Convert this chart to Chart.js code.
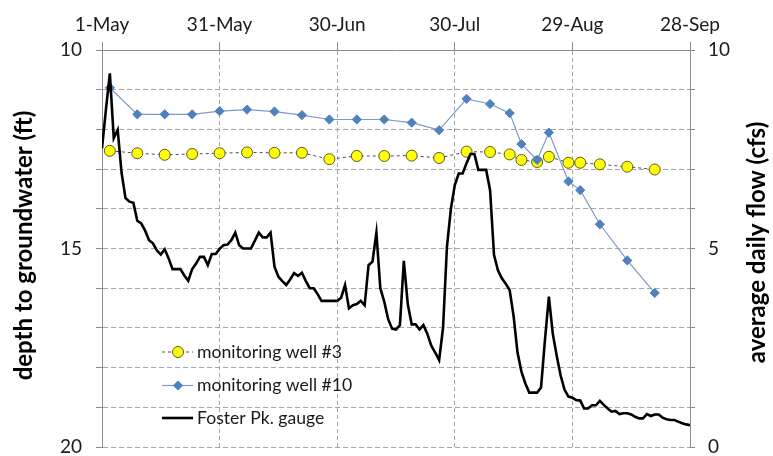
<!DOCTYPE html>
<html>
<head>
<meta charset="utf-8">
<script src="https://cdn.jsdelivr.net/npm/chart.js@4/dist/chart.umd.min.js"></script>
<style>
  html, body { margin: 0; padding: 0; background: #ffffff; }
  #wrap { width: 773px; height: 456px; }
</style>
</head>
<body>
<div id="wrap"><canvas id="c" width="773" height="456"></canvas></div>
<script>
// Date axis: day number counted from 1-May, ticks every 30 days
const dateTickLabels = ['1-May', '31-May', '30-Jun', '30-Jul', '29-Aug', '28-Sep'];

// Monitoring well survey days (days after 1-May)
const wellDays = [2, 9, 16, 23, 30, 37, 44, 51, 58, 65, 72, 79, 86, 93, 99, 104, 107, 111, 114, 119, 122, 127, 134, 141];

// Depth to groundwater (ft)
const well3Depth = [12.54, 12.60, 12.64, 12.62, 12.60, 12.58, 12.59, 12.59, 12.75, 12.67, 12.67, 12.66,
                    12.72, 12.56, 12.57, 12.63, 12.77, 12.82, 12.69, 12.84, 12.84, 12.88, 12.94, 13.01];
const well10Depth = [10.95, 11.62, 11.62, 11.62, 11.54, 11.50, 11.55, 11.64, 11.75, 11.75, 11.75, 11.83,
                     12.02, 11.23, 11.36, 11.59, 12.37, 12.77, 12.08, 13.31, 13.53, 14.39, 15.30, 16.12];

// Foster Pk. gauge, average daily flow (cfs), one value per day from 1-May to 28-Sep
const flowCfs = [
  7.52, 8.50, 9.41, 7.78, 7.99, 6.90, 6.27, 6.18, 6.15, 5.70,
  5.63, 5.45, 5.21, 5.13, 4.95, 4.85, 4.98, 4.75, 4.48, 4.48,
  4.48, 4.32, 4.19, 4.48, 4.62, 4.79, 4.79, 4.58, 4.86, 4.86,
  4.99, 5.08, 5.10, 5.21, 5.40, 5.08, 5.00, 5.00, 5.00, 5.20,
  5.40, 5.28, 5.28, 5.40, 4.54, 4.29, 4.18, 4.08, 4.22, 4.38,
  4.31, 4.39, 4.18, 4.00, 4.00, 3.85, 3.68, 3.68, 3.68, 3.68,
  3.68, 3.76, 4.08, 3.49, 3.57, 3.60, 3.68, 3.57, 4.58, 4.67,
  5.40, 4.00, 3.66, 3.22, 2.98, 2.96, 3.07, 4.69, 3.60, 3.09,
  3.09, 2.96, 3.07, 2.85, 2.55, 2.38, 2.19, 3.00, 5.05, 6.00,
  6.60, 6.89, 6.89, 7.15, 7.38, 7.38, 6.98, 6.98, 6.98, 6.47,
  4.84, 4.45, 4.25, 4.11, 3.95, 3.30, 2.38, 1.90, 1.60, 1.37,
  1.37, 1.37, 1.50, 2.70, 3.79, 2.85, 2.30, 1.80, 1.44, 1.27,
  1.24, 1.18, 1.17, 0.97, 0.97, 1.05, 1.05, 1.16, 1.06, 0.97,
  0.89, 0.91, 0.83, 0.85, 0.85, 0.82, 0.76, 0.72, 0.72, 0.83,
  0.78, 0.82, 0.82, 0.74, 0.70, 0.68, 0.68, 0.64, 0.60, 0.57,
  0.55
];

const seriesNames = ['monitoring well #3', 'monitoring well #10', 'Foster Pk. gauge'];
const axisTitles = { depth: 'depth to groundwater (ft)', flow: 'average daily flow (cfs)' };

const FONT = 'Lato, "Open Sans", sans-serif';
const GRID = '#a6a6a6';
const AXIS = '#8c8c8c';

const pts = (xs, ys) => xs.map((x, i) => ({ x: x, y: ys[i] }));

// Keep the plot box fixed: no extra room for half-labels at the ends
function fixBox(size, key) {
  return (s) => {
    s[key] = size;
    s.paddingTop = 0; s.paddingBottom = 0; s.paddingLeft = 0; s.paddingRight = 0;
  };
}

// Axis titles drawn bottom-to-top on both sides
const axisTitlePlugin = {
  id: 'axisTitles',
  afterDraw(chart) {
    const ctx = chart.ctx;
    const a = chart.chartArea;
    const midY = (a.top + a.bottom) / 2;
    ctx.save();
    ctx.font = 'bold 24px ' + FONT;
    ctx.fillStyle = '#000000';
    ctx.textAlign = 'center';
    ctx.textBaseline = 'middle';
    [[24, axisTitles.depth, -3], [757, axisTitles.flow, -6]].forEach(([x, t, dy]) => {
      ctx.save();
      ctx.translate(x, midY + dy);
      ctx.rotate(-Math.PI / 2);
      ctx.fillText(t, 0, 0);
      ctx.restore();
    });
    ctx.restore();
  }
};

// Legend inside the plot: line sample with marker, then the series name
const innerLegendPlugin = {
  id: 'innerLegend',
  afterDraw(chart) {
    const ctx = chart.ctx;
    const a = chart.chartArea;
    const x0 = a.left + 60, x1 = a.left + 91, xm = a.left + 76, xt = a.left + 95;
    const rows = [a.top + 302, a.top + 335.5, a.top + 368];
    ctx.save();
    chart.data.datasets.forEach((ds, i) => {
      const y = rows[i];
      ctx.save();
      ctx.strokeStyle = ds.borderColor;
      ctx.lineWidth = ds.borderWidth;
      ctx.setLineDash(ds.borderDash || []);
      ctx.beginPath();
      ctx.moveTo(x0, y);
      ctx.lineTo(x1, y);
      ctx.stroke();
      ctx.restore();
      if (ds.pointRadius > 0) {
        ctx.save();
        ctx.fillStyle = ds.pointBackgroundColor;
        ctx.strokeStyle = ds.pointBorderColor;
        ctx.lineWidth = ds.pointBorderWidth;
        Chart.helpers.drawPoint(ctx, { pointStyle: ds.pointStyle, radius: ds.pointRadius, borderWidth: ds.pointBorderWidth, rotation: 0 }, xm, y);
        ctx.restore();
      }
      ctx.fillStyle = '#1a1a1a';
      ctx.font = '17.6px ' + FONT;
      ctx.textAlign = 'left';
      ctx.textBaseline = 'middle';
      ctx.fillText(ds.label, xt, y);
    });
    ctx.restore();
  }
};

new Chart(document.getElementById('c'), {
  type: 'line',
  data: {
    datasets: [
      {
        label: seriesNames[0],
        data: pts(wellDays, well3Depth),
        yAxisID: 'depth',
        borderColor: '#4d4d4d',
        borderWidth: 1,
        borderDash: [3, 3],
        pointStyle: 'circle',
        pointRadius: 5.5,
        pointBackgroundColor: '#ffff00',
        pointBorderColor: '#5a5a1e',
        pointBorderWidth: 1,
        tension: 0,
        order: 2
      },
      {
        label: seriesNames[1],
        data: pts(wellDays, well10Depth),
        yAxisID: 'depth',
        borderColor: '#7b9bc8',
        borderWidth: 1.2,
        pointStyle: 'rectRot',
        pointRadius: 4.6,
        pointBackgroundColor: '#4f81bd',
        pointBorderColor: '#4f81bd',
        pointBorderWidth: 1,
        tension: 0,
        order: 1
      },
      {
        label: seriesNames[2],
        data: flowCfs.map((v, d) => ({ x: d, y: v })),
        yAxisID: 'flow',
        borderColor: '#000000',
        borderWidth: 2.6,
        pointRadius: 0,
        tension: 0,
        order: 0
      }
    ]
  },
  options: {
    responsive: false,
    animation: false,
    devicePixelRatio: 1,
    layout: { padding: { top: 0, right: 0, bottom: 9, left: 0 } },
    plugins: { legend: { display: false }, tooltip: { enabled: false } },
    scales: {
      x: {
        type: 'linear',
        position: 'top',
        min: 0,
        max: 150,
        afterFit: fixBox(50, 'height'),
        afterBuildTicks(s) { s.ticks = dateTickLabels.map((_, i) => ({ value: i * 30 })); },
        ticks: {
          autoSkip: false,
          maxRotation: 0,
          padding: 6,
          color: '#1a1a1a',
          font: { family: FONT, size: 19 },
          callback: (v) => dateTickLabels[Math.round(v / 30)]
        },
        grid: { color: GRID, lineWidth: 1, tickLength: 8, tickColor: AXIS },
        border: { display: true, color: AXIS, width: 1, dash: [4, 3] }
      },
      depth: {
        type: 'linear',
        position: 'left',
        reverse: true,
        min: 10,
        max: 20,
        afterFit: fixBox(102, 'width'),
        afterBuildTicks(s) {
          const t = [];
          for (let v = 10; v <= 20; v++) t.push({ value: v });
          s.ticks = t;
        },
        ticks: {
          autoSkip: false,
          padding: 14,
          color: '#1a1a1a',
          font: { family: FONT, size: 19 },
          callback: (v) => (v % 5 === 0 ? String(v) : '')
        },
        grid: { color: GRID, lineWidth: 1, tickLength: 6, tickColor: AXIS },
        border: { display: true, color: AXIS, width: 1, dash: [5, 3] }
      },
      flow: {
        type: 'linear',
        position: 'right',
        min: 0,
        max: 10,
        afterFit: fixBox(83, 'width'),
        afterBuildTicks(s) {
          const t = [];
          for (let v = 0; v <= 10; v++) t.push({ value: v });
          s.ticks = t;
        },
        ticks: {
          autoSkip: false,
          padding: 13,
          color: '#1a1a1a',
          font: { family: FONT, size: 19 },
          callback: (v) => (v % 5 === 0 ? String(v) : '')
        },
        grid: { drawOnChartArea: false, tickLength: 5, tickColor: AXIS },
        border: { display: true, color: AXIS, width: 1 }
      }
    }
  },
  plugins: [axisTitlePlugin, innerLegendPlugin]
});
</script>
</body>
</html>
